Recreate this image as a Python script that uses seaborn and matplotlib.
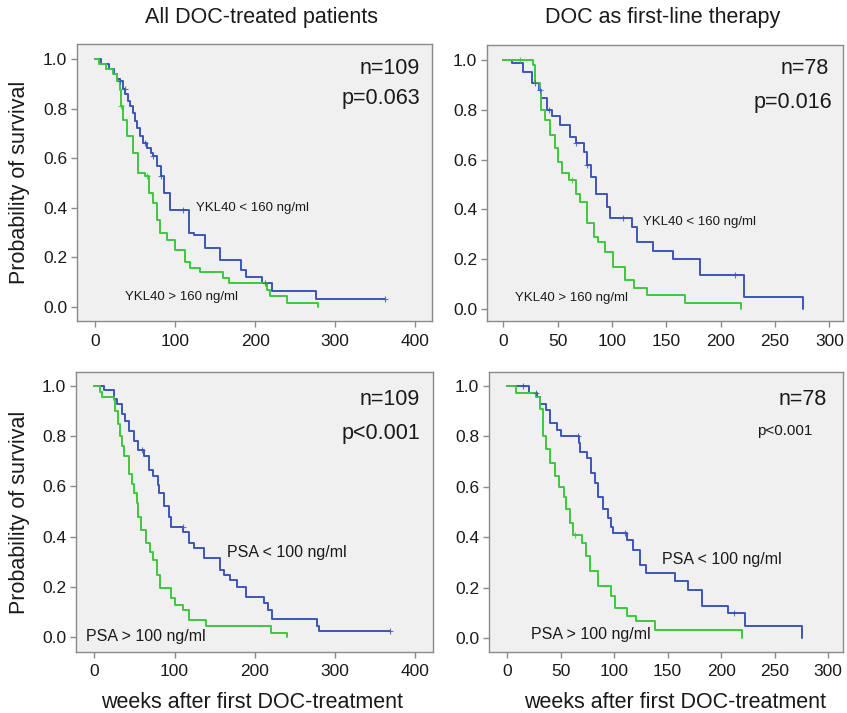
import numpy as np
import pandas as pd
import matplotlib
matplotlib.use("Agg")
import matplotlib.pyplot as plt
import seaborn as sns

# ---- data (weeks, survival after each step) ----
# top left: YKL40, all patients
tl_low_t = [0, 8, 17, 24, 28, 31, 35, 37.5, 41, 44, 47, 50, 53, 56, 60, 65, 70, 73, 78, 82, 86, 94,
            117, 124, 137, 156, 182, 189, 208, 221, 276, 362]
tl_low_s = [1.0, 0.98, 0.96, 0.94, 0.92, 0.91, 0.88, 0.86, 0.83, 0.81, 0.78, 0.75, 0.72, 0.69, 0.66,
            0.64, 0.62, 0.61, 0.57, 0.53, 0.46, 0.39, 0.30, 0.29, 0.24, 0.19, 0.15, 0.12, 0.097, 0.063,
            0.032, 0.032]
tl_high_t = [0, 5, 14, 23, 27, 31, 33, 35, 40, 47, 54, 62, 67, 72, 77, 81, 90, 100, 112, 119, 131,
             160, 168, 215, 219, 240, 279]
tl_high_s = [1.0, 0.98, 0.96, 0.94, 0.91, 0.875, 0.81, 0.755, 0.69, 0.62, 0.54, 0.53, 0.46, 0.42,
             0.35, 0.30, 0.27, 0.23, 0.18, 0.157, 0.14, 0.117, 0.097, 0.07, 0.043, 0.016, 0.0]
tl_low_cens = [31, 37, 63, 73, 82, 110, 212, 362]
tl_high_cens = [33, 65]

# top right: YKL40, first-line
tr_low_t = [0, 7.7, 18, 26, 33, 35, 40, 44.5, 52, 61, 67, 74, 77, 81, 85, 95, 98, 118, 123, 138,
            156, 181, 221, 276]
tr_low_s = [1.0, 0.987, 0.953, 0.906, 0.88, 0.846, 0.80, 0.773, 0.74, 0.69, 0.666, 0.63, 0.58,
            0.53, 0.46, 0.41, 0.365, 0.33, 0.27, 0.235, 0.20, 0.135, 0.048, 0.0]
tr_high_t = [0, 27, 29, 34, 35, 38, 43, 47.5, 50, 54, 60, 67, 70.5, 77, 83, 87, 94, 101, 112, 120,
             132, 167, 219]
tr_high_s = [1.0, 0.98, 0.906, 0.88, 0.80, 0.76, 0.70, 0.645, 0.59, 0.545, 0.52, 0.46, 0.43, 0.345,
             0.29, 0.27, 0.23, 0.17, 0.118, 0.084, 0.057, 0.024, 0.0]
tr_low_cens = [29, 34, 42, 67, 77, 110, 213]
tr_high_cens = [15, 63]

# bottom left: PSA, all patients
bl_low_t = [0, 11.7, 24, 28, 34.5, 38, 43, 49, 55, 62, 68, 73, 79, 81, 87, 93, 95, 111, 118, 124,
            137, 157, 162, 169, 178, 189, 211, 216, 222, 278, 280, 368]
bl_low_s = [1.0, 0.984, 0.95, 0.93, 0.89, 0.86, 0.82, 0.78, 0.745, 0.72, 0.666, 0.64, 0.606, 0.573,
            0.52, 0.48, 0.44, 0.42, 0.374, 0.354, 0.314, 0.268, 0.248, 0.228, 0.20, 0.16, 0.135,
            0.109, 0.072, 0.042, 0.023, 0.023]
bl_high_t = [0, 7.5, 9.6, 24, 26, 30, 32.5, 34.6, 36.7, 43, 47, 49, 53, 55, 58, 65, 70, 73, 77.5,
             82, 95, 101, 111, 118, 139, 220, 240]
bl_high_s = [1.0, 0.977, 0.957, 0.944, 0.90, 0.85, 0.80, 0.76, 0.72, 0.65, 0.61, 0.573, 0.533,
             0.48, 0.427, 0.374, 0.34, 0.308, 0.248, 0.195, 0.155, 0.129, 0.109, 0.069, 0.042,
             0.016, 0.0]
bl_low_cens = [60, 110, 368]
bl_high_cens = []

# bottom right: PSA, first-line
br_low_t = [0, 20, 28, 31, 36, 40, 46.6, 50, 67, 68, 75, 78, 82, 84.5, 90, 94, 97, 99, 112, 118,
            124, 130, 157, 169, 182, 206.5, 222, 276]
br_low_s = [1.0, 0.974, 0.958, 0.93, 0.905, 0.852, 0.826, 0.80, 0.773, 0.74, 0.714, 0.654, 0.614,
            0.56, 0.51, 0.476, 0.442, 0.416, 0.39, 0.35, 0.29, 0.258, 0.227, 0.19, 0.128, 0.099,
            0.046, 0.0]
br_high_t = [0, 8.7, 27, 31, 33.5, 36, 40, 45, 48, 53, 55, 59, 62, 70, 74, 77.6, 85, 97, 101, 112,
             120, 138, 220]
br_high_s = [1.0, 0.971, 0.958, 0.91, 0.80, 0.75, 0.694, 0.643, 0.60, 0.56, 0.51, 0.456, 0.407,
             0.376, 0.324, 0.264, 0.205, 0.165, 0.119, 0.086, 0.066, 0.033, 0.0]
br_low_cens = [15, 27, 66, 110, 212]
br_high_cens = [63]

BLUE = "#3d55b8"
GREEN = "#3ec83e"
FRAME = "#8a8a8a"

sns.set_theme(style="white")
plt.rcParams["font.family"] = ["Liberation Sans", "DejaVu Sans"]

W, H = 847, 713
fig = plt.figure(figsize=(W / 100, H / 100), dpi=100)


def make_ax(left, right, top, bottom):
    return fig.add_axes([left / W, 1 - bottom / H, (right - left) / W, (bottom - top) / H])


def step_at(t, s, c):
    i = np.searchsorted(np.asarray(t), c, side="right") - 1
    return np.asarray(s)[i]


def km_panel(ax, curves, xlim, ylim, xticks):
    ax.set_facecolor("#f0f0f0")
    for t, s, cens, col in curves:
        df = pd.DataFrame({"weeks": t, "surv": s})
        sns.lineplot(data=df, x="weeks", y="surv", ax=ax, color=col, lw=1.4,
                     drawstyle="steps-post", estimator=None, sort=False)
        if len(cens):
            cdf = pd.DataFrame({"weeks": cens, "surv": step_at(t, s, cens)})
            sns.scatterplot(data=cdf, x="weeks", y="surv", ax=ax, marker="+", color=col,
                            s=22, linewidth=0.8, alpha=0.8, zorder=3)
    ax.set_xlim(*xlim)
    ax.set_ylim(*ylim)
    ax.set_xticks(xticks)
    ax.set_yticks([0, 0.2, 0.4, 0.6, 0.8, 1.0])
    ax.set_yticklabels(["0.0", "0.2", "0.4", "0.6", "0.8", "1.0"])
    ax.set_xlabel("")
    ax.set_ylabel("")
    ax.tick_params(axis="both", direction="out", length=4, width=1, color=FRAME,
                   labelsize=12.5, labelcolor="#1a1a1a", pad=3, left=True, bottom=True)
    ax.tick_params(axis="x", pad=5)
    for sp in ax.spines.values():
        sp.set_color(FRAME)
        sp.set_linewidth(1.0)


ax1 = make_ax(77, 432, 44, 321)
km_panel(ax1, [(tl_low_t, tl_low_s, tl_low_cens, BLUE), (tl_high_t, tl_high_s, tl_high_cens, GREEN)],
         (-22.5, 421), (-0.056, 1.06), [0, 100, 200, 300, 400])
ax1.text(406, 0.96, "n=109", ha="right", va="center", fontsize=15.5, color="#1a1a1a")
ax1.text(406, 0.84, "p=0.063", ha="right", va="center", fontsize=15.5, color="#1a1a1a")
ax1.text(126, 0.40, "YKL40 < 160 ng/ml", ha="left", va="center", fontsize=9.5, color="#1a1a1a")
ax1.text(37.5, 0.042, "YKL40 > 160 ng/ml", ha="left", va="center", fontsize=9.5, color="#1a1a1a")

ax2 = make_ax(487, 843, 45, 321)
km_panel(ax2, [(tr_low_t, tr_low_s, tr_low_cens, BLUE), (tr_high_t, tr_high_s, tr_high_cens, GREEN)],
         (-15, 312.5), (-0.048, 1.06), [0, 50, 100, 150, 200, 250, 300])
ax2.text(299, 0.964, "n=78", ha="right", va="center", fontsize=15.5, color="#1a1a1a")
ax2.text(303, 0.83, "p=0.016", ha="right", va="center", fontsize=15.5, color="#1a1a1a")
ax2.text(128.5, 0.35, "YKL40 < 160 ng/ml", ha="left", va="center", fontsize=9.5, color="#1a1a1a")
ax2.text(10.7, 0.044, "YKL40 > 160 ng/ml", ha="left", va="center", fontsize=9.5, color="#1a1a1a")

ax3 = make_ax(76, 433, 372, 652)
km_panel(ax3, [(bl_low_t, bl_low_s, bl_low_cens, BLUE), (bl_high_t, bl_high_s, bl_high_cens, GREEN)],
         (-22.8, 422), (-0.06, 1.056), [0, 100, 200, 300, 400])
ax3.text(406, 0.948, "n=109", ha="right", va="center", fontsize=15.5, color="#1a1a1a")
ax3.text(406, 0.81, "p<0.001", ha="right", va="center", fontsize=15.5, color="#1a1a1a")
ax3.text(165.5, 0.335, "PSA < 100 ng/ml", ha="left", va="center", fontsize=11.5, color="#1a1a1a")
ax3.text(-10.4, 0.0, "PSA > 100 ng/ml", ha="left", va="center", fontsize=11.5, color="#1a1a1a")

ax4 = make_ax(489, 843, 372, 652)
km_panel(ax4, [(br_low_t, br_low_s, br_low_cens, BLUE), (br_high_t, br_high_s, br_high_cens, GREEN)],
         (-17, 314), (-0.056, 1.056), [0, 50, 100, 150, 200, 250, 300])
ax4.text(299, 0.948, "n=78", ha="right", va="center", fontsize=15.5, color="#1a1a1a")
ax4.text(285, 0.82, "p<0.001", ha="right", va="center", fontsize=11, color="#1a1a1a")
ax4.text(145, 0.31, "PSA < 100 ng/ml", ha="left", va="center", fontsize=11.5, color="#1a1a1a")
ax4.text(22, 0.012, "PSA > 100 ng/ml", ha="left", va="center", fontsize=11.5, color="#1a1a1a")

# titles and axis labels
fig.text(261 / W, 1 - 18 / H, "All DOC-treated patients", ha="center", va="center",
         fontsize=15.5, color="#1a1a1a")
fig.text(663 / W, 1 - 18 / H, "DOC as first-line therapy", ha="center", va="center",
         fontsize=15.5, color="#1a1a1a")
for yc in (182, 512):
    fig.text(20 / W, 1 - yc / H, "Probability of survival", ha="center", va="center",
             rotation=90, fontsize=15.5, color="#1a1a1a")
fig.text(252 / W, 1 - 702 / H, "weeks after first DOC-treatment", ha="center", va="center",
         fontsize=15.5, color="#1a1a1a")
fig.text(675 / W, 1 - 702 / H, "weeks after first DOC-treatment", ha="center", va="center",
         fontsize=15.5, color="#1a1a1a")

fig.savefig("out.png", dpi=100)
